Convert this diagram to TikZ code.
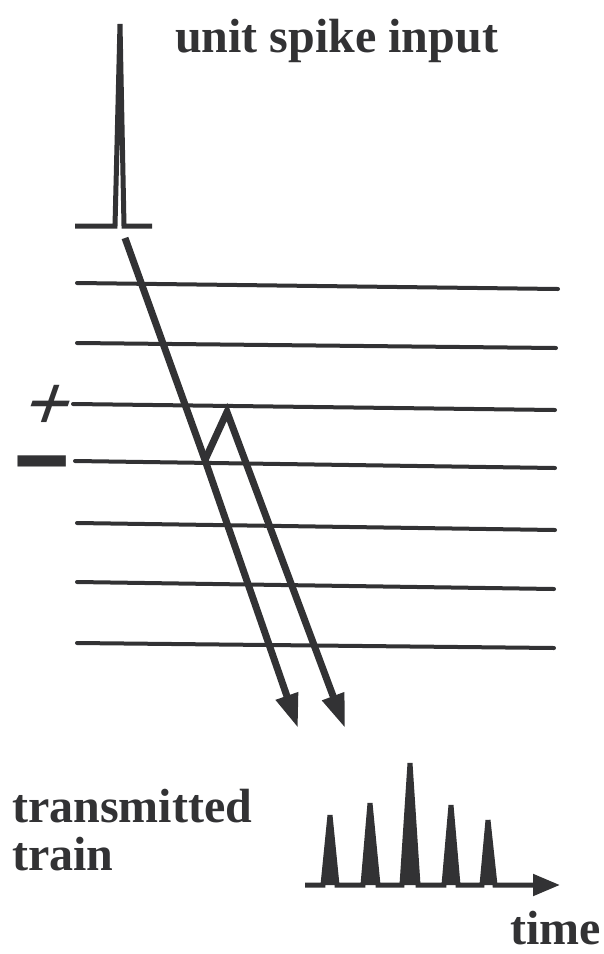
\documentclass[tikz,border=0pt]{standalone}
\usepackage{fontspec}
\setmainfont{Liberation Serif}
\usetikzlibrary{arrows.meta}
\definecolor{mydark}{RGB}{50,50,52}
\tikzset{
  level/.style={line width=4pt, color=mydark, line cap=round},
  spikeline/.style={line width=5pt, color=mydark},
  wave/.style={-{Triangle[length=34pt,width=22pt]}, line width=7pt, color=mydark},
  trainline/.style={-{Triangle[length=27pt,width=21pt]}, line width=5pt, color=mydark, fill=mydark},
  bigtext/.style={font=\bfseries\fontsize{48pt}{48pt}\selectfont, text=mydark, inner sep=0pt},
  signtext/.style={font=\bfseries\fontsize{80pt}{80pt}\selectfont, text=mydark, inner sep=0pt}
}

\begin{document}
\begin{tikzpicture}[x=1pt, y=-1pt]
  \useasboundingbox (0,0) rectangle (603,954);

  % input spike
  \draw[spikeline] (75,226) -- (115,226) -- (120,24) -- (124,226) -- (152,226);
  \node[bigtext, anchor=base west] (input) at (175,52) {unit spike input};

  % levels
  \foreach \xa/\ya/\xb/\yb in {77/283/558/289, 77/343/556/348, 73/404/555/410,
      75/461/555/468, 77/523/555/530, 77/582/554/589, 77/643/554/648}
    \draw[level] (\xa,\ya) -- (\xb,\yb);
  \node[signtext, xslant=0.35, anchor=base west] (plus) at (18,430) {+};
  \node[signtext, xscale=1.3, yscale=2, anchor=base west] (minus) at (12,514) {\smash{−}};

  % reflected paths
  \coordinate (src) at (125,238);
  \coordinate (fork) at (205,460);
  \coordinate (peak) at (227,412);
  \coordinate (tipA) at (298,728);
  \coordinate (tipB) at (345,728);
  \draw[wave] (src) -- (fork) -- (tipA);
  \draw[wave] (fork) -- (peak) -- (tipB);

  % output
  \node[bigtext, anchor=base west] (trans) at (12,822) {transmitted};
  \node[bigtext, anchor=base west] (train) at (12,870) {train};
  \draw[trainline] (305,885) -- (323,885) -- (330,815) -- (337,885) -- (363,885)
    -- (370,803) -- (378,885) -- (402,885) -- (410,763) -- (418,885) -- (444,885)
    -- (451,805) -- (458,885) -- (482,885) -- (488,820) -- (495,885) -- (560,885);
  \node[bigtext, anchor=base east] (time) at (601,944) {time};
\end{tikzpicture}
\end{document}
